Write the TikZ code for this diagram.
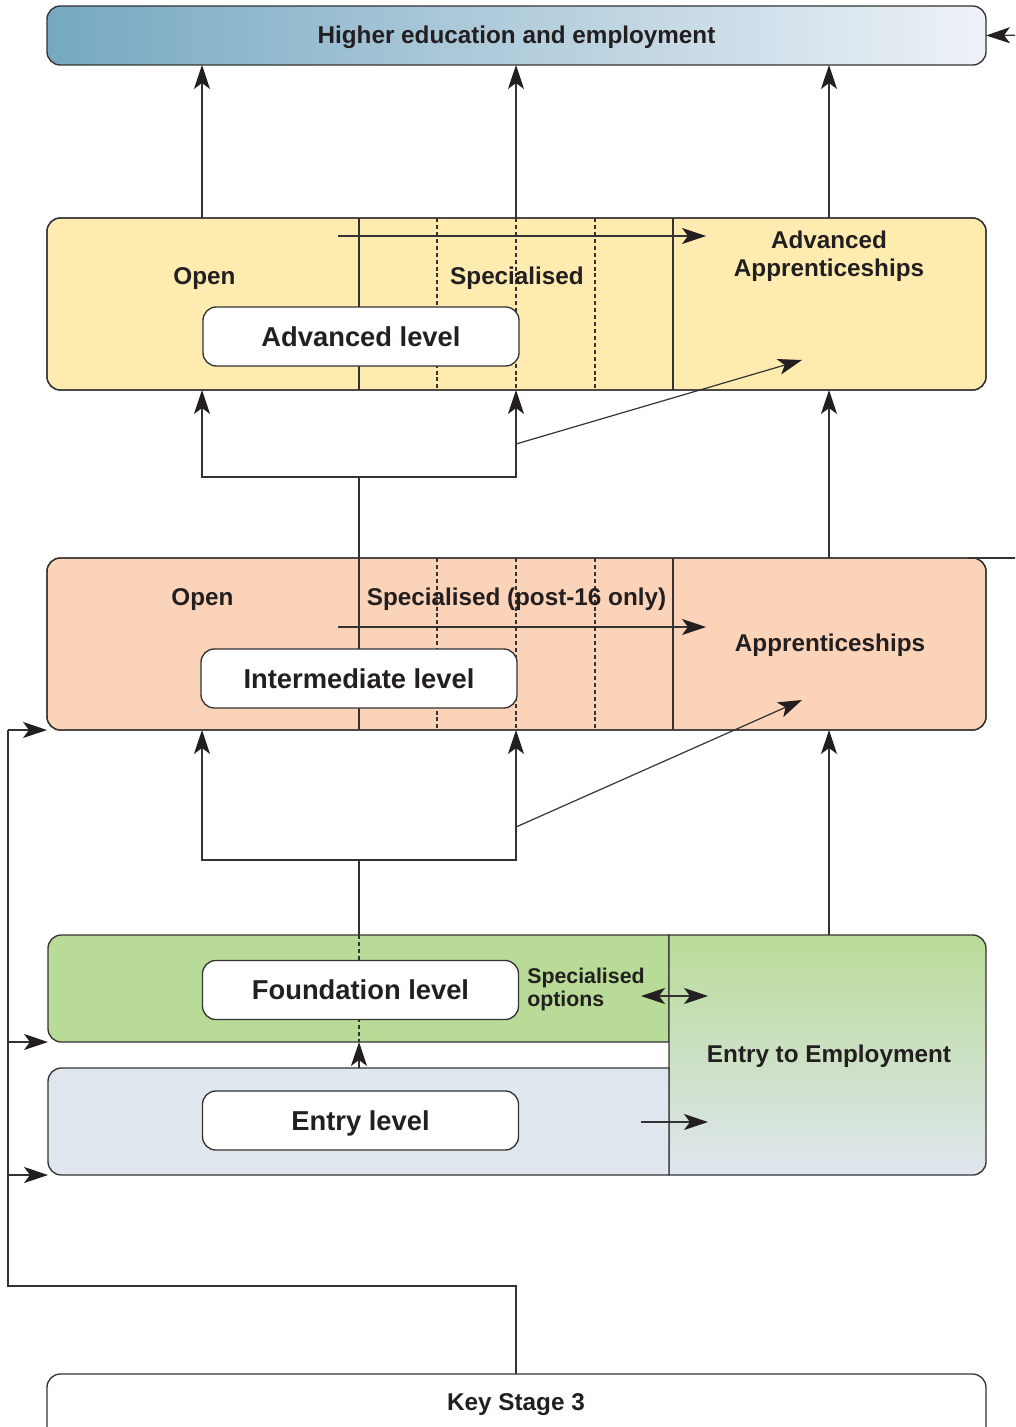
\documentclass[tikz,border=0pt]{standalone}
\usepackage{fontspec}
\setmainfont{Liberation Sans}
\usetikzlibrary{arrows.meta}
\definecolor{lc}{HTML}{333333}
\definecolor{tc}{HTML}{231F20}
\definecolor{topL}{HTML}{76A8C1}
\definecolor{topR}{HTML}{EEF2F7}
\definecolor{advY}{HTML}{FEEBAF}
\definecolor{intP}{HTML}{FBD3B8}
\definecolor{fndG}{HTML}{B9DB98}
\definecolor{entB}{HTML}{DFE6EE}
\begin{document}
\begin{tikzpicture}[x=0.75pt,y=-0.75pt,
  ln/.style={draw=lc, line width=0.9pt},
  tip/.style={},
  arr/.style={ln, -{Stealth[length=18pt,width=12pt,inset=4.5pt,color=tc]}},
  dblarr/.style={ln, {Stealth[length=18pt,width=12pt,inset=4.5pt,color=tc]}-{Stealth[length=18pt,width=12pt,inset=4.5pt,color=tc]}},
  bxl/.style={draw=lc, line width=1pt},
  bx/.style={bxl, rounded corners=10pt, inner sep=0pt, outer sep=0pt},
  wide/.style={bx, minimum width=704.25pt},
  lvl/.style={bx, fill=white, minimum width=237pt, minimum height=44.25pt,
    font=\fontsize{20.5}{24}\selectfont\bfseries, text=tc, text height=14.7pt, text depth=0pt},
  lbl/.style={inner sep=0pt, font=\fontsize{18.2}{21}\selectfont\bfseries, text=tc, text height=13pt, text depth=0pt},
  mlbl/.style={inner sep=0pt, font=\fontsize{18.2}{21}\selectfont\bfseries, text=tc},
  dv/.style={draw=lc, line width=0.8pt},
  dsh/.style={dv, dash pattern=on 3pt off 2.2pt},
]
\useasboundingbox (0,0) rectangle (1015,1427);
\clip (0,0) rectangle (1015,1427);

% x positions
\coordinate (cx1) at (202,0);
\coordinate (cx2) at (516,0);
\coordinate (cx3) at (829,0);
\coordinate (cx4) at (359,0);

% ---------- boxes ----------
\node[wide, minimum height=44.25pt, left color=topL, right color=topR] (top) at (516.5,35.5) {};
\node[lbl] at (516.5,35) {Higher education and employment};

\node[wide, minimum height=129pt, fill=advY] (adv) at (516.5,304) {};
\node[wide, minimum height=129pt, fill=intP] (int) at (516.5,644) {};

% dividers
\foreach \y/\z in {218/390, 558/730}{
  \draw[dv] (359,\y) -- (359,\z);
  \draw[dv] (673,\y) -- (673,\z);
  \draw[dsh] (437,\y) -- (437,\z);
  \draw[dsh] (516,\y) -- (516,\z);
  \draw[dsh] (595,\y) -- (595,\z);
}
\draw[bx] (adv.north west) rectangle (adv.south east);
\draw[bx] (int.north west) rectangle (int.south east);

% lower group
\path[bxl, fill=fndG] (400,1042) [rounded corners=10pt] -- (48,1042) -- (48,935) -- (400,935) [sharp corners] -- (669,935) -- (669,1042) -- cycle;
\path[bxl, top color=fndG, bottom color=entB] (800,935) [rounded corners=10pt] -- (986,935) -- (986,1175) -- (800,1175) [sharp corners] -- (669,1175) -- (669,935) -- cycle;
\path[bxl, fill=entB] (400,1175) [rounded corners=10pt] -- (48,1175) -- (48,1068) -- (400,1068) [sharp corners] -- (669,1068) -- (669,1175) -- cycle;
\draw[dsh] (359,935) -- (359,1042);

\coordinate (fndN) at (359,935);
\coordinate (fndS) at (359,1042);
\coordinate (entN) at (359,1068);
\coordinate (eteN) at (829,935);
\coordinate (fndSW) at (48,1042);
\coordinate (entSW) at (48,1175);

% key stage 3
\node[wide, fill=white, minimum height=60pt, anchor=north] (ks3) at (516.5,1374) {};
\node[lbl] at (516,1402) {Key Stage 3};

% level boxes
\node[lvl] (advlvl) at (361,336.5) {Advanced level};
\node[lvl] (intlvl) at (359,678.5) {Intermediate level};
\node[lvl] (fndlvl) at (360.5,990) {Foundation level};
\node[lvl] (entlvl) at (360.5,1120.5) {Entry level};

% labels
\node[lbl] at (204.5,276) {Open};
\node[lbl] at (517,276) {Specialised};
\node[mlbl, align=center] at (829,256) {Advanced\\Apprenticeships};
\node[lbl] at (202.5,597) {Open};
\node[lbl] at (516.5,597) {Specialised (post-16 only)};
\node[lbl] at (830,643) {Apprenticeships};
\node[inner sep=0pt, font=\fontsize{16}{17.5}\selectfont\bfseries, text=tc, align=left, anchor=west] at (527,989.5) {Specialised\\options};
\node[lbl] at (829,1054) {Entry to Employment};

% ---------- connectors ----------
\coordinate (rin) at (1030,35);
\draw[arr] (rin) -- (top.east);
\foreach \c in {cx1,cx2,cx3}{
  \draw[arr] (adv.north -| \c) -- (top.south -| \c);
}
% advanced internal arrow
\coordinate (a1) at (338,236);
\coordinate (a2) at (706,236);
\draw[arr] (a1) -- (a2);

% intermediate -> advanced
\coordinate (j1) at (359,477);
\draw[ln] (int.north -| cx4) -- (j1);
\draw[arr] (j1) -| (adv.south -| cx1);
\draw[arr] (j1) -| (adv.south -| cx2);
\coordinate (d1) at (516,444);
\coordinate (d1e) at (802,360);
\draw[arr] (d1) -- (d1e);
\draw[arr] (int.north -| cx3) -- (adv.south -| cx3);

% right edge line
\coordinate (r1) at (968,558);
\coordinate (r2) at (1030,558);
\draw[ln] (r1) -- (r2);

% intermediate internal arrow
\coordinate (b1) at (338,627);
\coordinate (b2) at (706,627);
\draw[arr] (b1) -- (b2);

% foundation -> intermediate
\coordinate (j2) at (359,860);
\draw[ln] (fndN) -- (j2);
\draw[arr] (j2) -| (int.south -| cx1);
\draw[arr] (j2) -| (int.south -| cx2);
\coordinate (d2) at (516,827);
\coordinate (d2e) at (802,700);
\draw[arr] (d2) -- (d2e);
\draw[arr] (eteN) -- (int.south -| cx3);

% entry -> foundation
\draw[arr] (entN) -- (fndS);

% to entry to employment
\coordinate (e1) at (641,996);
\coordinate (e2) at (708,996);
\draw[dblarr] (e1) -- (e2);
\coordinate (f1) at (641,1122);
\coordinate (f2) at (708,1122);
\draw[arr] (f1) -- (f2);

% left loop from key stage 3
\coordinate (lc) at (8,1286);
\draw[ln] (ks3.north -| cx2) |- (lc) -- (lc |- int.south);
\draw[arr] (lc |- int.south) -- (int.south west);
\draw[arr] (lc |- fndSW) -- (fndSW);
\draw[arr] (lc |- entSW) -- (entSW);
\end{tikzpicture}
\end{document}
